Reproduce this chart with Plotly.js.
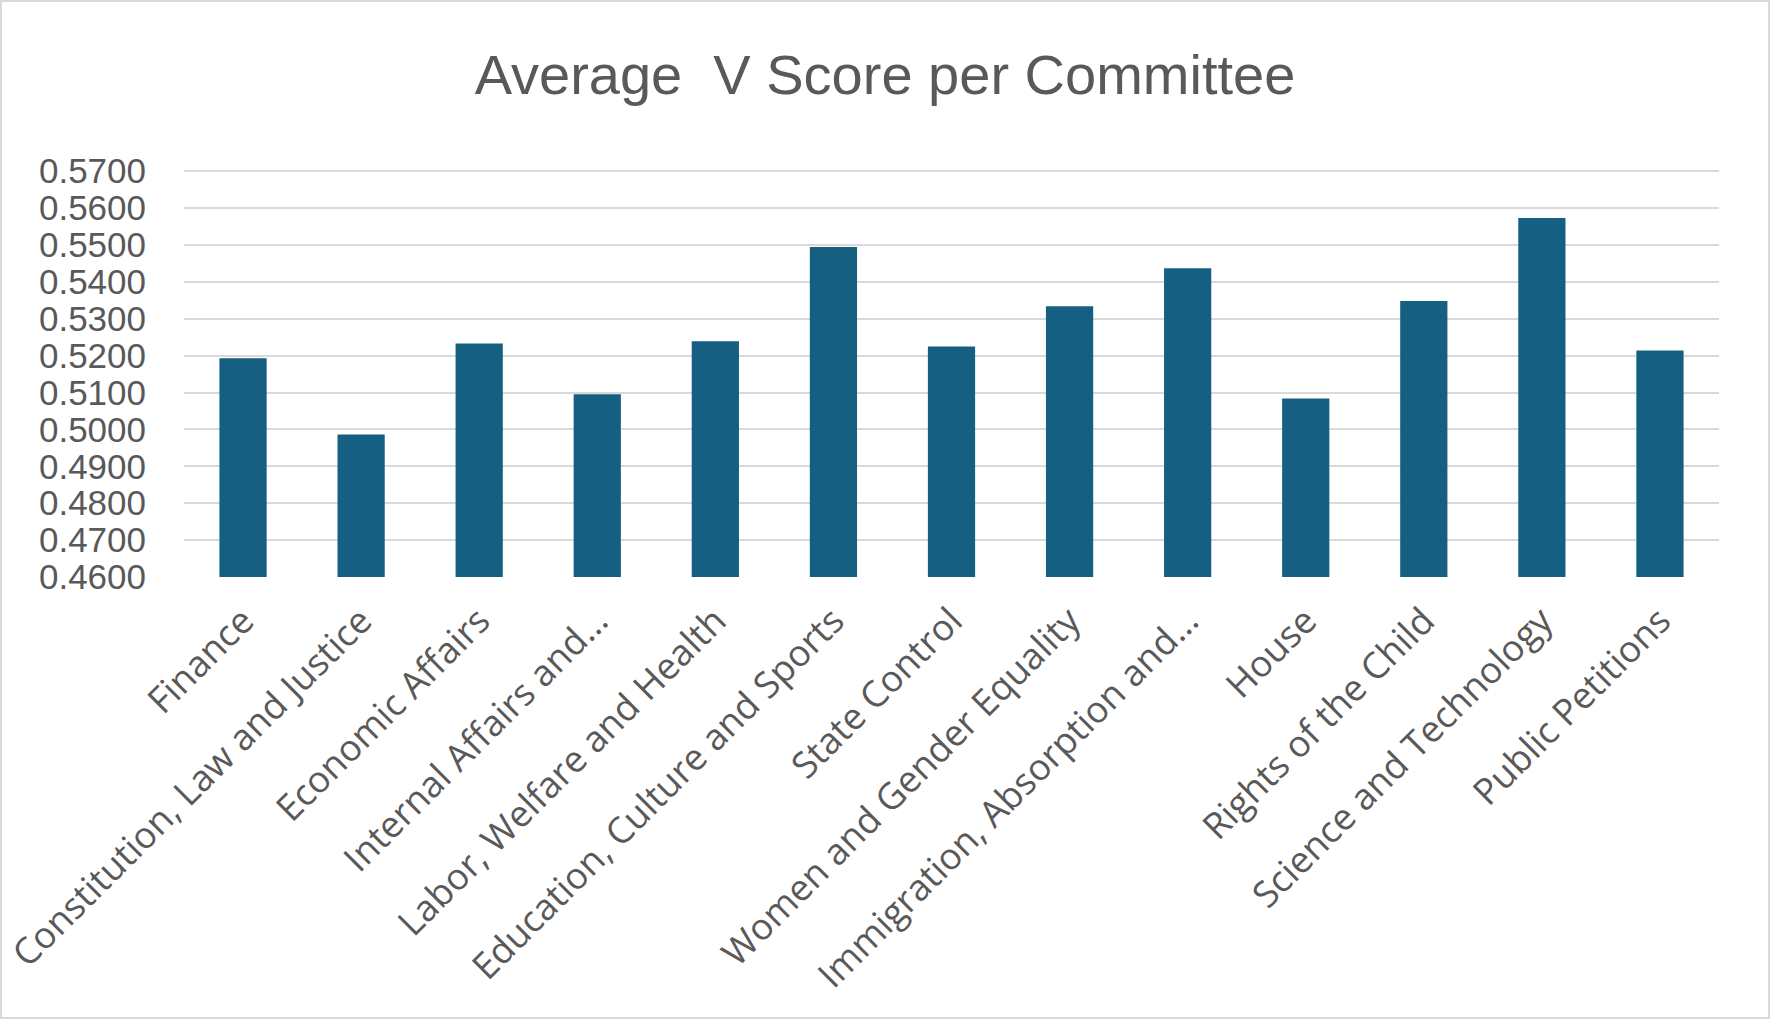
<!DOCTYPE html>
<html>
<head>
<meta charset="utf-8">
<script src="https://cdn.plot.ly/plotly-3.0.1.min.js"></script>
<style>html,body{margin:0;padding:0;background:#fff;}#chart{width:1770px;height:1019px;}</style>
</head>
<body>
<div id="chart"></div>
<script>
const committees = [
  "Finance",
  "Constitution, Law and Justice",
  "Economic Affairs",
  "Internal Affairs and…",
  "Labor, Welfare and Health",
  "Education, Culture and Sports",
  "State Control",
  "Women and Gender Equality",
  "Immigration, Absorption and…",
  "House",
  "Rights of the Child",
  "Science and Technology",
  "Public Petitions"
];
const avgVScore = [0.5193, 0.4986, 0.5233, 0.5095, 0.5239, 0.5494, 0.5225, 0.5334, 0.5437, 0.5084, 0.5348, 0.5573, 0.5214];
const yTickValues = [0.46, 0.47, 0.48, 0.49, 0.50, 0.51, 0.52, 0.53, 0.54, 0.55, 0.56, 0.57];

const W = 1770, H = 1019;
const m = {l: 184, r: 51, t: 170, b: 442};
const pw = W - m.l - m.r, ph = H - m.t - m.b;

const trace = {
  type: 'bar',
  x: committees,
  y: avgVScore,
  marker: {color: '#156082', line: {width: 0}},
  hoverinfo: 'x+y'
};

const layout = {
  width: W, height: H,
  margin: m,
  paper_bgcolor: '#ffffff',
  plot_bgcolor: '#ffffff',
  bargap: 0.6,
  showlegend: false,
  title: {
    text: 'Average  V Score per Committee',
    font: {family: 'Liberation Sans, Arial, sans-serif', size: 56, color: '#595959'},
    x: 0.5, xref: 'container', xanchor: 'center',
    y: 1 - 74 / H, yref: 'container', yanchor: 'middle'
  },
  xaxis: {
    type: 'category',
    tickangle: -45,
    tickfont: {family: 'Open Sans, sans-serif', size: 36.5, color: '#595959'},
    showgrid: false,
    showline: false,
    zeroline: false,
    ticks: '',
    ticklabelstandoff: 14
  },
  yaxis: {
    range: [0.46, 0.5703],
    tickvals: yTickValues,
    tickformat: '.4f',
    tickfont: {family: 'Liberation Sans, Arial, sans-serif', size: 35, color: '#595959'},
    showgrid: true,
    gridcolor: '#d9d9d9',
    gridwidth: 2,
    zeroline: false,
    showline: false,
    ticks: '',
    ticklabelstandoff: 37
  },
  shapes: [{
    type: 'rect', xref: 'paper', yref: 'paper',
    x0: (1 - m.l) / pw, x1: (W - 1 - m.l) / pw,
    y0: -(m.b - 1) / ph, y1: 1 + (m.t - 1) / ph,
    line: {color: '#d9d9d9', width: 2},
    fillcolor: 'rgba(0,0,0,0)',
    layer: 'below'
  }]
};

Plotly.newPlot('chart', [trace], layout, {displayModeBar: false, staticPlot: true});
</script>
</body>
</html>
